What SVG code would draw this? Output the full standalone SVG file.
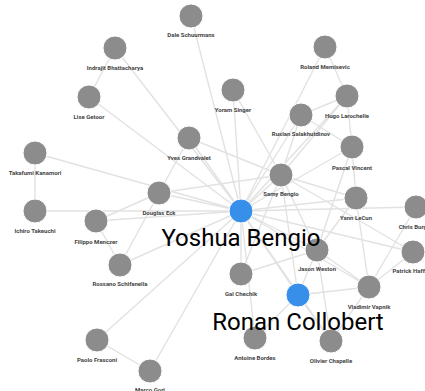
<svg xmlns="http://www.w3.org/2000/svg" width="425" height="391" viewBox="0 0 425 391">
<style>
.e line{stroke:#e2e2e2;stroke-width:1.4}
.n circle{fill:#8c8c8c;stroke:#fff;stroke-width:1}
.n.b circle{fill:#388fea}
.n text{font-family:Roboto,"Liberation Sans",sans-serif;font-size:6px;font-weight:bold;fill:#444;text-anchor:middle}
.n text.big{font-size:24px;font-weight:normal;fill:#000}
</style>
<rect width="425" height="391" fill="#fff"/>
<g id="edges" class="e">
<line x1="241" y1="211" x2="191" y2="16"/>
<line x1="241" y1="211" x2="115" y2="48"/>
<line x1="241" y1="211" x2="89" y2="97"/>
<line x1="241" y1="211" x2="35" y2="153"/>
<line x1="241" y1="211" x2="35" y2="211"/>
<line x1="241" y1="211" x2="96" y2="221"/>
<line x1="241" y1="211" x2="159" y2="193"/>
<line x1="241" y1="211" x2="120" y2="265"/>
<line x1="241" y1="211" x2="97" y2="340"/>
<line x1="241" y1="211" x2="150" y2="371"/>
<line x1="241" y1="211" x2="189" y2="138"/>
<line x1="241" y1="211" x2="233" y2="90"/>
<line x1="241" y1="211" x2="325" y2="47"/>
<line x1="241" y1="211" x2="347" y2="96"/>
<line x1="241" y1="211" x2="301" y2="115"/>
<line x1="241" y1="211" x2="352" y2="147"/>
<line x1="241" y1="211" x2="281" y2="175"/>
<line x1="241" y1="211" x2="356" y2="198"/>
<line x1="241" y1="211" x2="416" y2="207"/>
<line x1="241" y1="211" x2="413" y2="252"/>
<line x1="241" y1="211" x2="317" y2="250"/>
<line x1="241" y1="211" x2="241" y2="274"/>
<line x1="241" y1="211" x2="369" y2="287"/>
<line x1="241" y1="211" x2="298" y2="295"/>
<line x1="241" y1="211" x2="255" y2="338"/>
<line x1="241" y1="211" x2="331" y2="341"/>
<line x1="115" y1="48" x2="89" y2="97"/>
<line x1="35" y1="153" x2="35" y2="211"/>
<line x1="96" y1="221" x2="159" y2="193"/>
<line x1="96" y1="221" x2="120" y2="265"/>
<line x1="159" y1="193" x2="189" y2="138"/>
<line x1="159" y1="193" x2="281" y2="175"/>
<line x1="159" y1="193" x2="120" y2="265"/>
<line x1="97" y1="340" x2="150" y2="371"/>
<line x1="189" y1="138" x2="281" y2="175"/>
<line x1="233" y1="90" x2="281" y2="175"/>
<line x1="325" y1="47" x2="347" y2="96"/>
<line x1="347" y1="96" x2="301" y2="115"/>
<line x1="347" y1="96" x2="352" y2="147"/>
<line x1="347" y1="96" x2="281" y2="175"/>
<line x1="301" y1="115" x2="281" y2="175"/>
<line x1="301" y1="115" x2="352" y2="147"/>
<line x1="352" y1="147" x2="356" y2="198"/>
<line x1="352" y1="147" x2="317" y2="250"/>
<line x1="281" y1="175" x2="317" y2="250"/>
<line x1="281" y1="175" x2="298" y2="295"/>
<line x1="281" y1="175" x2="356" y2="198"/>
<line x1="281" y1="175" x2="413" y2="252"/>
<line x1="281" y1="175" x2="241" y2="274"/>
<line x1="356" y1="198" x2="369" y2="287"/>
<line x1="356" y1="198" x2="317" y2="250"/>
<line x1="416" y1="207" x2="369" y2="287"/>
<line x1="413" y1="252" x2="369" y2="287"/>
<line x1="317" y1="250" x2="241" y2="274"/>
<line x1="317" y1="250" x2="369" y2="287"/>
<line x1="317" y1="250" x2="331" y2="341"/>
<line x1="317" y1="250" x2="298" y2="295"/>
<line x1="298" y1="295" x2="369" y2="287"/>
<line x1="298" y1="295" x2="255" y2="338"/>
<line x1="298" y1="295" x2="331" y2="341"/>
<line x1="369" y1="287" x2="331" y2="341"/>
</g>
<g id="dale" class="n"><circle cx="191" cy="16" r="12"/><text x="191" y="37">Dale Schuurmans</text></g>
<g id="indrajit" class="n"><circle cx="115" cy="48" r="12"/><text x="115" y="70">Indrajit Bhattacharya</text></g>
<g id="lise" class="n"><circle cx="89" cy="97" r="12"/><text x="89" y="119">Lise Getoor</text></g>
<g id="roland" class="n"><circle cx="325" cy="47" r="12"/><text x="325" y="69">Roland Memisevic</text></g>
<g id="yoram" class="n"><circle cx="233" cy="90" r="12"/><text x="233" y="112">Yoram Singer</text></g>
<g id="hugo" class="n"><circle cx="347" cy="96" r="12"/><text x="347" y="118">Hugo Larochelle</text></g>
<g id="ruslan" class="n"><circle cx="301" cy="115" r="12"/><text x="301" y="136">Ruslan Salakhutdinov</text></g>
<g id="yves" class="n"><circle cx="189" cy="138" r="12"/><text x="189" y="160">Yves Grandvalet</text></g>
<g id="pascal" class="n"><circle cx="352" cy="147" r="12"/><text x="352" y="170">Pascal Vincent</text></g>
<g id="takafumi" class="n"><circle cx="35" cy="153" r="12"/><text x="35" y="175">Takafumi Kanamori</text></g>
<g id="samy" class="n"><circle cx="281" cy="175" r="12"/><text x="281" y="196">Samy Bengio</text></g>
<g id="douglas" class="n"><circle cx="159" cy="193" r="12"/><text x="159" y="215">Douglas Eck</text></g>
<g id="yann" class="n"><circle cx="356" cy="198" r="12"/><text x="356" y="220">Yann LeCun</text></g>
<g id="chris" class="n"><circle cx="416" cy="207" r="12"/><text x="416" y="229">Chris Burges</text></g>
<g id="ichiro" class="n"><circle cx="35" cy="211" r="12"/><text x="35" y="233">Ichiro Takeuchi</text></g>
<g id="filippo" class="n"><circle cx="96" cy="221" r="12"/><text x="96" y="244">Filippo Menczer</text></g>
<g id="patrick" class="n"><circle cx="413" cy="252" r="12"/><text x="413" y="273">Patrick Haffner</text></g>
<g id="jason" class="n"><circle cx="317" cy="250" r="12"/><text x="317" y="271">Jason Weston</text></g>
<g id="rossano" class="n"><circle cx="120" cy="265" r="12"/><text x="120" y="286">Rossano Schifanella</text></g>
<g id="gal" class="n"><circle cx="241" cy="274" r="12"/><text x="241" y="296">Gal Chechik</text></g>
<g id="vladimir" class="n"><circle cx="369" cy="287" r="12"/><text x="369" y="309">Vladimir Vapnik</text></g>
<g id="antoine" class="n"><circle cx="255" cy="338" r="12"/><text x="255" y="360">Antoine Bordes</text></g>
<g id="olivier" class="n"><circle cx="331" cy="341" r="12"/><text x="331" y="363">Olivier Chapelle</text></g>
<g id="paolo" class="n"><circle cx="97" cy="340" r="12"/><text x="97" y="362">Paolo Frasconi</text></g>
<g id="marco" class="n"><circle cx="150" cy="371" r="12"/><text x="150" y="392">Marco Gori</text></g>
<g id="yoshua" class="n b"><circle cx="241" cy="211" r="12"/><text class="big" x="241" y="246">Yoshua Bengio</text></g>
<g id="ronan" class="n b"><circle cx="298" cy="295" r="12"/><text class="big" x="298" y="330">Ronan Collobert</text></g>
</svg>
